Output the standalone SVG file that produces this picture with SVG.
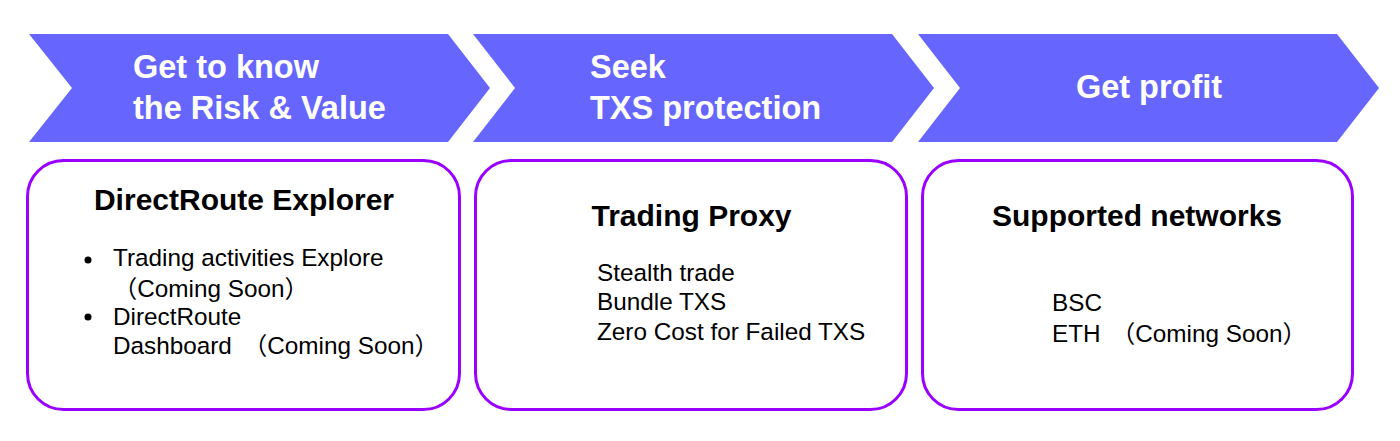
<svg xmlns="http://www.w3.org/2000/svg" width="1400" height="441" viewBox="0 0 1400 441">
<style>
.chev{fill:#6666FF}
.ct{fill:#FFFFFF;font-family:"Liberation Sans",Arial,sans-serif;font-weight:bold;font-size:32.5px}
.box{fill:#FFFFFF;stroke:#9900FF;stroke-width:3}
.tt{fill:#000000;font-family:"Liberation Sans",Arial,sans-serif;font-weight:bold;font-size:30px;text-anchor:middle}
.bt{fill:#000000;font-family:"Liberation Sans",Arial,"Noto Sans CJK SC",sans-serif;font-size:24.3px}
</style>
<rect width="1400" height="441" fill="#FFFFFF"/>
<g id="step1">
<polygon class="chev" points="29,34 448,34 490,88 448,142 29,142 72,88"/>
<text class="ct" x="133" y="78">Get to know</text>
<text class="ct" x="133" y="119">the Risk &amp; Value</text>
</g>
<g id="step2">
<polygon class="chev" points="473,34 892,34 934,88 892,142 473,142 515,88"/>
<text class="ct" x="590" y="78">Seek</text>
<text class="ct" x="590" y="119">TXS protection</text>
</g>
<g id="step3">
<polygon class="chev" points="918,34 1337,34 1379,88 1337,142 918,142 960,88"/>
<text class="ct" x="1149" y="98" text-anchor="middle">Get profit</text>
</g>
<g id="explorer">
<rect class="box" x="27.5" y="160.5" width="432" height="249" rx="36"/>
<text class="tt" x="244" y="210" font-size="27.5">DirectRoute Explorer</text>
<circle cx="88" cy="260" r="3.5" fill="#000"/>
<circle cx="88" cy="317" r="3.5" fill="#000"/>
<text class="bt" x="113" y="266">Trading activities Explore</text>
<text class="bt" x="113" y="297">（Coming Soon）</text>
<text class="bt" x="113" y="325">DirectRoute</text>
<text class="bt" x="113" y="354">Dashboard</text>
<text class="bt" x="243" y="354">（Coming Soon）</text>
</g>
<g id="proxy">
<rect class="box" x="475.5" y="160.5" width="431" height="249" rx="36"/>
<text class="tt" x="691.5" y="226">Trading Proxy</text>
<text class="bt" x="597" y="281">Stealth trade</text>
<text class="bt" x="597" y="310">Bundle TXS</text>
<text class="bt" x="597" y="340">Zero Cost for Failed TXS</text>
</g>
<g id="networks">
<rect class="box" x="922.5" y="160.5" width="430" height="249" rx="36"/>
<text class="tt" x="1137" y="226">Supported networks</text>
<text class="bt" x="1052" y="311">BSC</text>
<text class="bt" x="1052" y="342">ETH</text>
<text class="bt" x="1111" y="342">（Coming Soon）</text>
</g>
<g id="connectors"></g>
</svg>
